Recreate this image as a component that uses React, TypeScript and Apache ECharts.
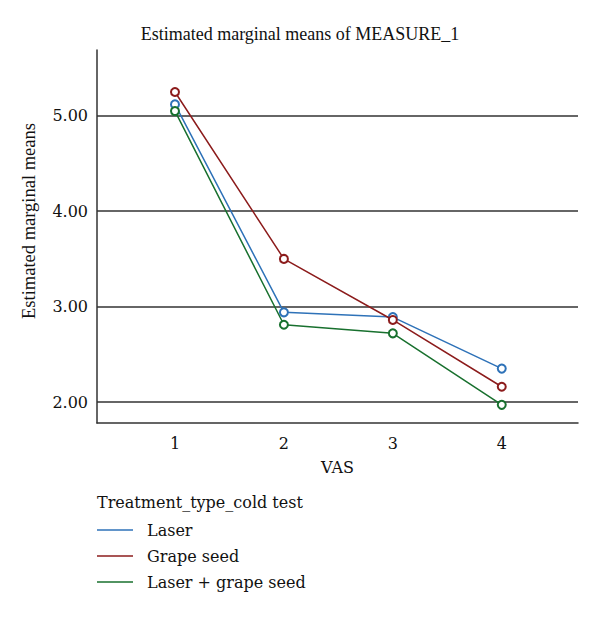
import React, { useEffect, useRef } from "react";
import * as echarts from "echarts";

const categories = [1, 2, 3, 4];
const laser = [5.12, 2.94, 2.89, 2.35];
const grapeSeed = [5.25, 3.5, 2.86, 2.16];
const laserGrape = [5.05, 2.81, 2.72, 1.97];
const yTicks = [2, 3, 4, 5];
const seriesNames = ["Laser", "Grape seed", "Laser + grape seed"];
const colors = ["#2e72b8", "#8c1c1c", "#18702e"];

const FONT = "'DejaVu Serif', 'Liberation Serif', serif";
const TITLE_FONT = "'Liberation Serif', 'DejaVu Serif', serif";

export default function App() {
  const ref = useRef<HTMLDivElement>(null);

  useEffect(() => {
    if (!ref.current) return;
    const chart = echarts.init(ref.current, undefined, { renderer: "svg" });
    const seriesData = [laser, grapeSeed, laserGrape];

    const series: any[] = seriesData.map((vals, i) => ({
      name: seriesNames[i],
      type: "line",
      data: vals.map((v, j) => [categories[j], v]),
      symbol: "emptyCircle",
      symbolSize: 8,
      lineStyle: { color: colors[i], width: 1.5 },
      itemStyle: { color: colors[i], borderColor: colors[i], borderWidth: 1.5 },
      z: 3 + i,
    }));

    // horizontal reference lines at each labelled value
    series[0].markLine = {
      silent: true,
      symbol: "none",
      label: { show: false },
      lineStyle: { color: "#333333", width: 1.5, type: "solid" },
      data: yTicks.map((v) => ({ yAxis: v })),
      z: 1,
    };

    chart.setOption({
      animation: false,
      backgroundColor: "#ffffff",
      textStyle: { fontFamily: FONT },
      title: {
        text: "Estimated marginal means of MEASURE_1",
        left: 295,
        top: 20,
        textAlign: "center",
        textStyle: { fontFamily: TITLE_FONT, fontSize: 18, fontWeight: "normal", color: "#111" },
      },
      grid: { left: 97, right: 22, top: 50, bottom: 194 },
      xAxis: {
        type: "value",
        min: 0.284,
        max: 4.7,
        name: "VAS",
        nameLocation: "middle",
        nameGap: 36,
        nameTextStyle: { fontFamily: FONT, fontSize: 16, color: "#111" },
        axisLine: { show: true, onZero: false, lineStyle: { color: "#333", width: 1.5 } },
        axisTick: { show: false },
        splitLine: { show: false },
        axisLabel: {
          customValues: categories,
          fontFamily: FONT,
          fontSize: 16,
          color: "#111",
          margin: 12,
        },
      },
      yAxis: {
        type: "value",
        min: 1.78,
        max: 5.69,
        axisLine: { show: true, onZero: false, lineStyle: { color: "#333", width: 1.5 } },
        axisTick: { show: false },
        splitLine: { show: false },
        axisLabel: {
          customValues: yTicks,
          formatter: (v: number) => v.toFixed(2),
          fontFamily: FONT,
          fontSize: 16,
          color: "#111",
          margin: 9,
        },
      },
      legend: {
        orient: "vertical",
        left: 97,
        top: 522,
        padding: 0,
        icon: "rect",
        itemWidth: 36,
        itemHeight: 1.5,
        itemGap: 10,
        itemStyle: { borderWidth: 0 },
        data: seriesNames,
        textStyle: { fontFamily: FONT, fontSize: 16, color: "#111", padding: [0, 0, 0, 9] },
      },
      graphic: [
        {
          type: "text",
          left: 97,
          top: 494,
          style: {
            text: "Treatment_type_cold test",
            font: `16px ${FONT}`,
            fill: "#111",
          },
        },
        {
          type: "text",
          x: 29,
          y: 221,
          rotation: Math.PI / 2,
          style: {
            text: "Estimated marginal means",
            font: `18.5px ${TITLE_FONT}`,
            fill: "#111",
            align: "center",
            verticalAlign: "middle",
          },
        },
      ],
      series,
    });

    return () => chart.dispose();
  }, []);

  return (
    <div
      ref={ref}
      style={{ position: "absolute", left: 0, top: 0, width: 600, height: 617 }}
    />
  );
}
